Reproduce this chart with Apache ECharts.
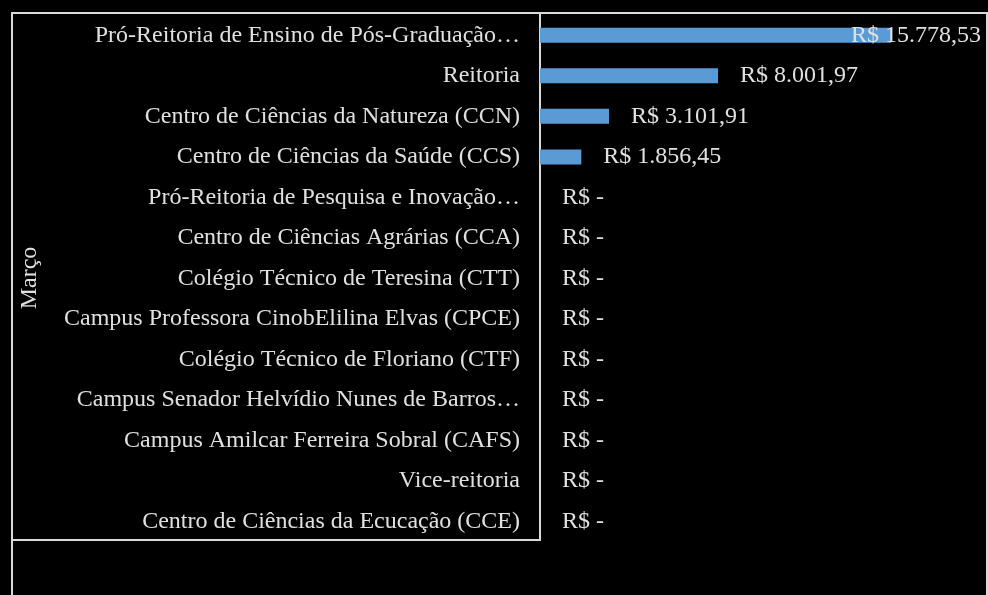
<!DOCTYPE html>
<html lang="pt">
<head>
  <meta charset="UTF-8">
  <title>Março</title>
  <script src="https://cdn.jsdelivr.net/npm/echarts@6/dist/echarts.min.js"></script>
  <style>
    html, body { margin: 0; padding: 0; background: #000; }
    #main { width: 988px; height: 595px; }
  </style>
</head>
<body>
  <div id="main"></div>
  <script>
  const groupLabel = 'Março';

  const categories = [
    'Pró-Reitoria de Ensino de Pós-Graduação…',
    'Reitoria',
    'Centro de Ciências da Natureza (CCN)',
    'Centro de Ciências da Saúde (CCS)',
    'Pró-Reitoria de Pesquisa e Inovação…',
    'Centro de Ciências Agrárias (CCA)',
    'Colégio Técnico de Teresina (CTT)',
    'Campus Professora CinobElilina Elvas (CPCE)',
    'Colégio Técnico de Floriano (CTF)',
    'Campus Senador Helvídio Nunes de Barros…',
    'Campus Amilcar Ferreira Sobral (CAFS)',
    'Vice-reitoria',
    'Centro de Ciências da Ecucação (CCE)'
  ];

  const values = [15778.53, 8001.97, 3101.91, 1856.45, 0, 0, 0, 0, 0, 0, 0, 0, 0];

  const font = "'Liberation Serif', 'Times New Roman', serif";
  const textColor = '#e0e0e0';

  // R$ 1.234,56 style, zero shown as "R$ -"
  function brl(v) {
    if (!v) return 'R$ -';
    const parts = v.toFixed(2).split('.');
    const int = parts[0].replace(/\B(?=(\d{3})+(?!\d))/g, '.');
    return 'R$ ' + int + ',' + parts[1];
  }

  const chart = echarts.init(document.getElementById('main'));

  chart.setOption({
    backgroundColor: '#000',
    animation: false,
    grid: { left: 540, top: 15, width: 445, height: 527 },
    xAxis: { type: 'value', min: 0, max: 20000, show: false },
    yAxis: {
      type: 'category',
      data: categories,
      inverse: true,
      axisLine: { show: false },
      axisTick: { show: false },
      axisLabel: { color: textColor, fontFamily: font, fontSize: 24, margin: 20 }
    },
    series: [{
      type: 'bar',
      barWidth: 15,
      itemStyle: { color: '#5b9bd5' },
      label: {
        show: true,
        position: 'right',
        distance: 22,
        color: textColor,
        fontFamily: font,
        fontSize: 24,
        formatter: p => brl(p.value)
      },
      data: values.map((v, i) => i === 0
        ? { value: v, label: { offset: [-62, 0] } }
        : v)
    }],
    graphic: [
      {
        type: 'rect',
        shape: { x: 12, y: 13, width: 975, height: 620 },
        style: { fill: null, stroke: '#d9d9d9', lineWidth: 2 },
        silent: true
      },
      {
        type: 'rect',
        shape: { x: 12, y: 13, width: 528, height: 527 },
        style: { fill: null, stroke: '#d9d9d9', lineWidth: 2 },
        silent: true
      },
      {
        type: 'text',
        x: 30,
        y: 278,
        rotation: Math.PI / 2,
        style: {
          text: groupLabel,
          fill: textColor,
          font: '24px ' + font,
          textAlign: 'center',
          textVerticalAlign: 'middle'
        },
        silent: true
      }
    ]
  });
  </script>
</body>
</html>
